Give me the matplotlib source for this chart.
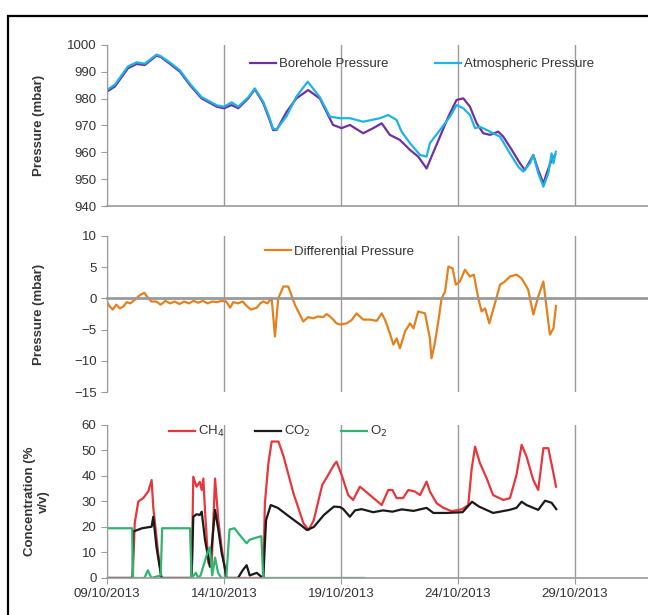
import pandas as pd
import matplotlib
matplotlib.use("Agg")
import matplotlib.pyplot as plt
import matplotlib.dates as mdates

plt.rcParams['font.family'] = ['Liberation Sans', 'DejaVu Sans']

start = pd.Timestamp('2013-10-09')

# top panel: pressures (days after 09/10/2013, mbar)
bh_day = [0, 0.34, 0.9, 1.27, 1.62, 2.12, 2.3, 2.76, 3.12, 3.55,
          4.04, 4.4, 4.69, 5.0, 5.33, 5.61, 6.04, 6.32, 6.68, 6.9,
          7.1, 7.25, 7.68, 8.1, 8.6, 9.1, 9.66, 10.03, 10.38, 10.95,
          11.38, 11.74, 12.09, 12.52, 12.95, 13.3, 13.66, 13.87, 14.23, 14.59,
          14.94, 15.23, 15.51, 15.8, 16.08, 16.37, 16.72, 16.94, 17.3, 17.65,
          17.86, 18.22, 18.43, 18.65, 18.79, 19.0, 19.15]
borehole = [982.6, 984.5, 991.3, 992.9, 992.5, 996, 995.5, 992.5, 990, 985,
            980.1, 978.4, 977, 976.4, 977.6, 976.4, 980.1, 983.5, 978.3, 973.3,
            968.3, 968.3, 975.1, 980.1, 983.2, 980, 970.2, 969, 970.2, 967.1,
            969, 970.8, 966.5, 964.6, 960.9, 958.4, 954, 958.4, 965.8, 973.3,
            979.5, 980.1, 977, 970.8, 967.1, 966.5, 967.7, 965.8, 960.9, 955.9,
            953.4, 959, 953.4, 948.4, 952.2, 957.1, 959]

at_day = [0, 0.34, 0.9, 1.27, 1.62, 2.12, 2.3, 2.76, 3.12, 3.55,
          4.04, 4.4, 4.69, 5.0, 5.33, 5.61, 6.04, 6.32, 6.68, 6.9,
          7.1, 7.25, 7.68, 8.1, 8.58, 9.1, 9.53, 9.96, 10.38, 10.95,
          11.67, 12.02, 12.38, 12.59, 12.95, 13.38, 13.66, 13.8, 14.23, 14.66,
          14.94, 15.23, 15.51, 15.73, 15.94, 16.23, 16.5, 16.8, 17.22, 17.58,
          17.79, 18.08, 18.22, 18.43, 18.65, 18.86, 19.0, 19.08, 19.18]
atmos = [983.2, 985.2, 992, 993.5, 993, 996.4, 995.8, 993, 990.5, 985.5,
         980.6, 978.9, 977.5, 977, 978.6, 977, 980.5, 983.8, 978.8, 974,
         968.8, 968.5, 973.5, 980.8, 986.3, 980.5, 973.3, 972.7, 972.7, 971.4,
         972.7, 973.9, 972, 967.7, 963.4, 959, 958.4, 963.4, 968.3, 973.3,
         977.6, 976.4, 973.9, 969, 969.5, 968.3, 967.1, 965.8, 959.6, 954.6,
         952.8, 955.9, 959, 952.2, 947.2, 952.2, 959.6, 955.9, 960.2]

# middle panel: differential pressure
df_day = [0, 0.1, 0.25, 0.4, 0.55, 0.7, 0.85, 1.0, 1.2, 1.4,
          1.6, 1.75, 1.9, 2.1, 2.3, 2.5, 2.7, 2.9, 3.1, 3.3,
          3.5, 3.7, 3.9, 4.1, 4.3, 4.5, 4.7, 4.9, 5.1, 5.26,
          5.4, 5.6, 5.8, 5.97, 6.15, 6.4, 6.55, 6.68, 6.85, 7.04,
          7.18, 7.32, 7.54, 7.75, 8.03, 8.39, 8.6, 8.82, 9.0, 9.24,
          9.39, 9.53, 9.67, 9.81, 9.96, 10.24, 10.45, 10.67, 10.95, 11.24,
          11.53, 11.74, 11.88, 12.09, 12.24, 12.38, 12.52, 12.74, 12.95, 13.1,
          13.3, 13.59, 13.8, 13.87, 14.0, 14.16, 14.3, 14.45, 14.59, 14.77,
          14.91, 15.08, 15.3, 15.51, 15.68, 15.87, 16.01, 16.16, 16.34, 16.58,
          16.8, 17.0, 17.22, 17.5, 17.72, 18.0, 18.22, 18.43, 18.65, 18.79,
          18.93, 19.08, 19.19]
diff = [-0.5, -1.2, -1.8, -1.0, -1.6, -1.3, -0.6, -0.8, -0.2, 0.5,
        0.9, 0.1, -0.5, -0.5, -1.0, -0.4, -0.8, -0.5, -0.9, -0.5,
        -0.8, -0.4, -0.7, -0.4, -0.8, -0.5, -0.6, -0.4, -0.5, -1.5,
        -0.6, -0.8, -0.5, -1.2, -1.8, -1.5, -0.8, -0.5, -0.8, 0,
        -6.1, 0, 1.9, 1.9, -1.0, -3.7, -3.0, -3.2, -2.9, -3.0,
        -2.5, -2.9, -3.4, -4.0, -4.2, -4.0, -3.5, -2.4, -3.4, -3.4,
        -3.6, -2.4, -3.4, -5.6, -7.4, -6.4, -8.0, -5.3, -4.0, -4.8,
        -2.1, -2.4, -6.4, -9.6, -7.4, -3.7, 0, 1.1, 5.1, 4.8,
        2.2, 2.7, 4.6, 3.5, 3.8, 0, -2.1, -1.6, -4.0, -0.8,
        2.2, 2.7, 3.5, 3.8, 3.2, 1.4, -2.6, 0.3, 2.7, -1.6,
        -5.8, -4.8, -1.2]

# bottom panel: gas concentrations (% v/v)
ch4_day = [0, 1.1, 1.19, 1.34, 1.55, 1.77, 1.91, 1.98, 2.19, 2.33,
           3.62, 3.69, 3.83, 3.97, 4.05, 4.12, 4.19, 4.33, 4.47, 4.62,
           4.76, 4.9, 5.1, 6.68, 6.75, 6.9, 7.04, 7.33, 7.55, 7.97,
           8.4, 8.62, 8.84, 9.2, 9.41, 9.7, 9.81, 10.03, 10.31, 10.52,
           10.81, 11.24, 11.74, 12.02, 12.2, 12.38, 12.65, 12.88, 13.16, 13.38,
           13.66, 13.8, 14.09, 14.38, 14.73, 15.16, 15.44, 15.58, 15.73, 15.94,
           16.23, 16.5, 16.94, 17.22, 17.36, 17.5, 17.72, 17.93, 18.22, 18.43,
           18.65, 18.86, 19.05, 19.19]
ch4 = [0, 0, 21.6, 30, 31.3, 34, 38.4, 27.8, 9.7, 0,
       0, 39.7, 35.8, 37.7, 34.5, 39, 26.6, 6, 4.4, 39,
       22.7, 12, 0, 0, 29.3, 45, 53.5, 53.5, 47.6, 33.2,
       21.4, 18.8, 22.7, 36.5, 39.7, 44.3, 45.6, 40.4, 32.5, 30.6,
       35.8, 32.5, 28.6, 34.5, 34.5, 31.3, 31.3, 34.5, 33.9, 32.5,
       37.8, 33.9, 29.3, 27.5, 26.2, 26.9, 28.6, 42.4, 51.5, 45,
       39, 32.5, 30.6, 31.3, 35.8, 40.4, 52.2, 47.6, 38.4, 34.5,
       50.9, 50.9, 42.4, 35.8]

co2_day = [0, 1.1, 1.12, 1.5, 1.91, 1.98, 2.12, 2.33, 3.62, 3.69,
           3.83, 3.97, 4.05, 4.19, 4.4, 4.62, 4.76, 4.9, 5.04, 5.1,
           5.6, 5.8, 5.97, 6.1, 6.4, 6.6, 6.68, 6.8, 7.0, 7.3,
           7.7, 8.26, 8.55, 8.84, 9.27, 9.7, 9.96, 10.1, 10.38, 10.6,
           10.88, 11.38, 11.8, 12.2, 12.6, 13.1, 13.66, 13.95, 14.5, 15.2,
           15.6, 15.9, 16.5, 17.2, 17.5, 17.72, 17.93, 18.43, 18.72, 19.0,
           19.2]
co2 = [0, 0, 18.2, 19.5, 20.1, 24, 12, 0, 0, 24,
       25, 24.7, 26, 15, 4.4, 26.7, 19, 10, 4, 0,
       0, 3, 5, 1, 2, 0.5, 0, 22.7, 28.6, 27.5,
       24.7, 20.9, 18.8, 20, 24.7, 28, 27.8, 27, 24, 26.5,
       27, 25.8, 26.5, 26, 26.9, 26.3, 27.5, 25.5, 25.5, 25.8,
       29.9, 28, 25.5, 26.7, 27.5, 29.9, 28.6, 26.7, 30.3, 29.5,
       27]

o2_day = [0, 1.08, 1.12, 1.6, 1.75, 1.9, 2.3, 2.36, 3.55, 3.62,
          3.8, 3.9, 4.0, 4.3, 4.4, 4.5, 4.62, 4.75, 4.9, 5.1,
          5.24, 5.45, 5.66, 5.97, 6.1, 6.3, 6.6, 6.68, 11.0]
o2 = [19.5, 19.5, 0, 0, 3, 0, 1, 19.5, 19.5, 0,
      2, 0, 1, 10, 12, 1, 8, 2, 0, 0,
      19, 19.5, 17, 13.6, 15, 15.6, 16.4, 0, 0]

tick_dates = ['2013-10-09', '2013-10-14', '2013-10-19', '2013-10-24', '2013-10-29']


def to_dates(days):
    return start + pd.to_timedelta(days, unit='D')


grey = '#9a9a9a'
txt = '#333333'
fig = plt.figure(figsize=(6.48, 6.15), dpi=100)

ax1 = fig.add_axes([0.165, 0.665, 0.835, 0.262])
ax2 = fig.add_axes([0.165, 0.3626, 0.835, 0.2537])
ax3 = fig.add_axes([0.165, 0.0602, 0.835, 0.2488])

ax1.plot(to_dates(bh_day), borehole, color='#7030A0', lw=1.6, label='Borehole Pressure')
ax1.plot(to_dates(at_day), atmos, color='#1BB4E8', lw=1.6, label='Atmospheric Pressure')
ax1.set_ylim(940, 1000)
ax1.set_yticks(range(940, 1001, 10))
ax1.set_ylabel('Pressure (mbar)')

ax2.plot(to_dates(df_day), diff, color='#E5801E', lw=1.6, label='Differential Pressure')
ax2.set_ylim(-15, 10)
ax2.set_yticks(range(-15, 11, 5))
ax2.set_ylabel('Pressure (mbar)')
ax2.spines['bottom'].set_position(('data', 0))

ax3.plot(to_dates(ch4_day), ch4, color='#E8363C', lw=1.6, label='CH$_4$')
ax3.plot(to_dates(co2_day), co2, color='#1a1a1a', lw=1.6, label='CO$_2$')
ax3.plot(to_dates(o2_day), o2, color='#2FB56F', lw=1.6, label='O$_2$')
ax3.set_ylim(0, 60)
ax3.set_yticks(range(0, 61, 10))
ax3.set_ylabel('Concentration (%\nv/v)', linespacing=1.2)

for ax in (ax1, ax2, ax3):
    ax.set_xlim(start, start + pd.Timedelta(days=23.12))
    ax.set_xticks(pd.to_datetime(tick_dates))
    ax.xaxis.set_major_formatter(mdates.DateFormatter('%d/%m/%Y'))
    ax.grid(axis='x', color=grey, lw=1)
    ax.spines['top'].set_visible(False)
    ax.spines['right'].set_visible(False)
    ax.spines['left'].set_color(grey)
    ax.spines['bottom'].set_color(grey)
    ax.spines['bottom'].set_linewidth(1.2)
    ax.tick_params(axis='y', direction='out', length=4, color=grey, labelsize=9.5, labelcolor=txt)
    ax.tick_params(axis='x', length=0, labelbottom=False)
    ax.yaxis.label.set_fontsize(9.5)
    ax.yaxis.label.set_fontweight('bold')
    ax.yaxis.label.set_color(txt)
    ax.set_axisbelow(True)

ax2.spines['bottom'].set_linewidth(2)
ax3.tick_params(axis='x', length=4, color=grey, labelbottom=True, labelsize=9.5, labelcolor=txt)

ax1.yaxis.set_label_coords(-0.115, 0.5)
ax2.yaxis.set_label_coords(-0.115, 0.5)
ax3.yaxis.set_label_coords(-0.105, 0.5)

leg_kw = dict(frameon=False, fontsize=9.5, handlelength=2.0, handletextpad=0.2, labelcolor=txt)
ax1.legend(loc='center', bbox_to_anchor=(0.582, 0.88), ncol=2, columnspacing=3.5, **leg_kw)
ax2.legend(loc='center', bbox_to_anchor=(0.43, 0.9), **leg_kw)
ax3.legend(loc='center', bbox_to_anchor=(0.316, 0.955), ncol=3, columnspacing=2.3, **leg_kw)

fig.add_artist(plt.Rectangle((8 / 648, -0.1), 2, 1 - 16 / 615 + 0.1,
                             transform=fig.transFigure, fill=False, ec='black', lw=1.6))

fig.savefig('out.png', dpi=100)
